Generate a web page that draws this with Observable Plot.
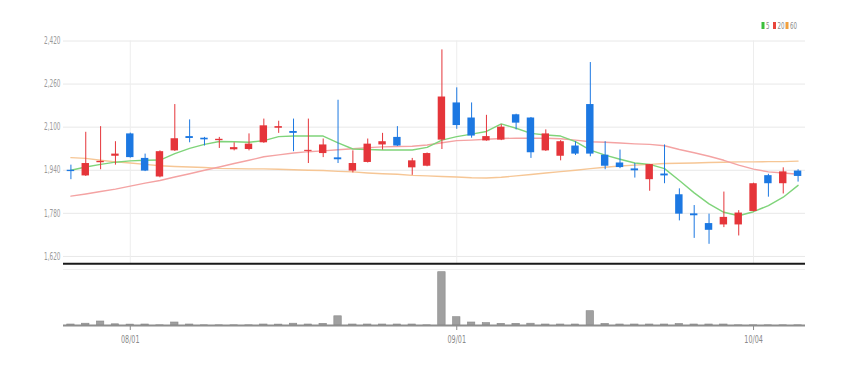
<!DOCTYPE html>
<html>
<head>
<meta charset="utf-8">
<script src="https://cdn.jsdelivr.net/npm/d3@7"></script>
<script src="https://cdn.jsdelivr.net/npm/@observablehq/plot@0.6"></script>
<style>
  body { margin: 0; background: #fff; }
  #wrap { position: relative; width: 848px; height: 366px; overflow: hidden;
    font-family: "Liberation Sans Narrow", "DejaVu Sans Condensed", "Liberation Sans", sans-serif; }
  #price, #vol, #legend { position: absolute; left: 0; }
  #price { top: 0; }
  #vol { top: 264px; }
  #legend { top: 0; }
  svg { background: transparent; }
</style>
</head>
<body>
<div id="wrap">
  <div id="price"></div>
  <div id="vol"></div>
  <div id="legend"></div>
</div>
<script>
// ---- data ----
const dates = [
  "2022-07-26","2022-07-27","2022-07-28","2022-07-29",
  "2022-08-01","2022-08-02","2022-08-03","2022-08-04","2022-08-05",
  "2022-08-08","2022-08-09","2022-08-10","2022-08-11","2022-08-12",
  "2022-08-16","2022-08-17","2022-08-18","2022-08-19",
  "2022-08-22","2022-08-23","2022-08-24","2022-08-25","2022-08-26",
  "2022-08-29","2022-08-30","2022-08-31",
  "2022-09-01","2022-09-02","2022-09-05","2022-09-06","2022-09-07","2022-09-08",
  "2022-09-13","2022-09-14","2022-09-15","2022-09-16",
  "2022-09-19","2022-09-20","2022-09-21","2022-09-22","2022-09-23",
  "2022-09-26","2022-09-27","2022-09-28","2022-09-29","2022-09-30",
  "2022-10-04","2022-10-05","2022-10-06","2022-10-07"
];
const open  = [1940,1919,1968,1992,2075,1984,1915,2012,2065,2059,2050,2016,2017,2042,2096,2084,2010,2002,1986,1937,1969,2034,2062,1949,1955,2052,2190,2134,2049,2052,2146,2134,2012,1992,2030,2184,1996,1967,1945,1905,1926,1849,1778,1742,1737,1737,1787,1920,1890,1937];
const high  = [1959,2081,2102,2046,2078,2000,2012,2184,2127,2062,2062,2042,2075,2130,2122,2130,2130,2056,2200,2012,2056,2077,2102,1984,2004,2387,2246,2190,2144,2109,2148,2136,2090,2050,2046,2340,2046,2015,1965,1961,2034,1871,1809,1777,1859,1790,1892,1925,1949,1942];
const low   = [1905,1917,1942,1959,1985,1935,1912,2010,2042,2030,2021,2012,2012,2040,2077,2009,1965,1987,1965,1930,1967,2015,2028,1921,1953,2017,2092,2059,2048,2050,2090,1984,2010,1975,1995,1990,1942,1946,1911,1862,1890,1752,1687,1665,1727,1696,1785,1840,1852,1896];
const close = [1935,1965,1973,2000,1987,1937,2009,2057,2058,2053,2055,2024,2037,2105,2102,2077,2014,2034,1979,1965,2037,2046,2030,1975,2002,2212,2106,2067,2065,2100,2115,2005,2075,2046,2000,2000,1955,1950,1938,1961,1919,1777,1771,1717,1765,1781,1890,1890,1934,1917];
const ma5   = [1940,1952,1962,1970,1975,1977,1978,2002,2021,2036,2047,2046,2044,2050,2065,2067,2067,2067,2042,2019,2017,2015,2015,2015,2025,2052,2065,2074,2084,2112,2096,2077,2071,2067,2046,2015,1996,1981,1967,1962,1946,1902,1856,1815,1784,1771,1786,1809,1840,1884];
const ma20  = [1844,1852,1861,1870,1881,1892,1902,1915,1927,1940,1952,1965,1977,1990,1997,2004,2009,2012,2016,2020,2024,2027,2028,2029,2034,2042,2050,2052,2055,2058,2059,2059,2059,2057,2052,2046,2044,2041,2038,2036,2031,2017,2005,1992,1977,1959,1944,1934,1930,1925];
const ma60  = [1987,1984,1977,1971,1967,1962,1957,1954,1952,1950,1947,1946,1945,1945,1944,1942,1940,1939,1936,1934,1930,1927,1925,1921,1919,1917,1915,1912,1911,1914,1919,1924,1930,1935,1940,1946,1951,1956,1959,1962,1965,1966,1967,1969,1970,1971,1971,1972,1972,1974];
const volume = [10000,18000,40000,12000,9000,10000,1500,30000,10000,1500,1500,1500,1500,10000,9000,18000,10000,17000,92000,10000,10000,10000,10000,10000,1500,533000,83000,30000,24000,17000,17000,18000,10000,10000,10000,143000,16000,10000,10000,10000,10000,15000,10000,10000,10000,1500,1500,1500,1500,1500];
const tickDates  = ["2022-08-01","2022-09-01","2022-10-04"];
const tickLabels = ["08/01","09/01","10/04"];
const yTicks = [1620,1780,1940,2100,2260,2420];
const maNames = ["5","20","60"];
const maColors = ["#7fd47a","#f4a3a3","#f6c695"];
const legendColors = ["#3cbf3c","#e8443a","#f0a040"];

// ---- chart ----
const RED = "#e5353a", BLUE = "#1c78e2";
const FONT = '"Liberation Sans Narrow", "DejaVu Sans Condensed", "Liberation Sans", sans-serif';
const n = dates.length;
const xDomain = [-0.5, n - 0.5];
const W = 848, ML = 63, MR = 43;
const rows = d3.range(n).map(i => ({i, o: open[i], h: high[i], l: low[i], c: close[i], v: volume[i], up: close[i] >= open[i]}));
const up = rows.filter(d => d.up), down = rows.filter(d => !d.up);
const maSeries = [ma5, ma20, ma60];
const tickIdx = tickDates.map(d => dates.indexOf(d));
const yBottom = 1593, yTop = 2420;

// condense tick text (the reference uses a narrow face)
function condense(svg, re, len) {
  svg.querySelectorAll("text").forEach(t => {
    if (re.test(t.textContent.trim())) {
      t.setAttribute("textLength", len);
      t.setAttribute("lengthAdjust", "spacingAndGlyphs");
    }
  });
}

const price = Plot.plot({
  width: W, height: 266,
  marginLeft: ML, marginRight: MR, marginTop: 40.5, marginBottom: 2.8,
  style: {fontSize: "10px", fontFamily: FONT, color: "#9a9a9a", background: "transparent"},
  x: {domain: xDomain, axis: null},
  y: {domain: [yBottom, yTop], ticks: yTicks, tickFormat: d3.format(","), tickSize: 0, tickPadding: 3, label: null},
  marks: [
    Plot.ruleY(yTicks, {stroke: "#e8e8e8", strokeWidth: 1}),
    Plot.ruleX(tickIdx, {x: d => d, y1: yBottom, y2: yTop, stroke: "#ededed"}),
    ...[2, 1, 0].map(k => Plot.line(d3.range(n), {x: i => i, y: i => maSeries[k][i], stroke: maColors[k], strokeWidth: 1.4})),
    Plot.ruleX(up, {x: "i", y1: "l", y2: "h", stroke: RED, strokeWidth: 1}),
    Plot.ruleX(down, {x: "i", y1: "l", y2: "h", stroke: BLUE, strokeWidth: 1}),
    Plot.rect(up, {x1: d => d.i - 0.25, x2: d => d.i + 0.25, y1: "o", y2: "c", fill: RED}),
    Plot.rect(down, {x1: d => d.i - 0.25, x2: d => d.i + 0.25, y1: "o", y2: "c", fill: BLUE}),
    Plot.ruleY([yBottom], {stroke: "#1a1a1a", strokeWidth: 2})
  ]
});
condense(price, /^\d,\d{3}$/, 16.5);
document.getElementById("price").appendChild(price);

const vMax = d3.max(volume);
const vTop = vMax * 56 / 53.3;
const vol = Plot.plot({
  width: W, height: 102,
  marginLeft: ML, marginRight: MR, marginTop: 5, marginBottom: 41,
  style: {fontSize: "11px", fontFamily: FONT, color: "#8a8a8a", background: "transparent"},
  x: {domain: xDomain, ticks: tickIdx, tickFormat: i => tickLabels[tickIdx.indexOf(i)], tickSize: 5, tickPadding: 5, label: null},
  y: {domain: [0, vTop], axis: null},
  marks: [
    Plot.ruleY([vTop], {stroke: "#f0f0f0"}),
    Plot.rect(rows, {x1: d => d.i - 0.25, x2: d => d.i + 0.25, y1: 0, y2: "v", fill: "#a0a0a0", stroke: "#888", strokeWidth: 0.6}),
    Plot.ruleY([0], {stroke: "#8e8e8e", strokeWidth: 2})
  ]
});
condense(vol, /^\d\d\/\d\d$/, 18.5);
document.getElementById("vol").appendChild(vol);

// legend (above the chart, top right)
const lsvg = d3.create("svg").attr("width", W).attr("height", 40)
  .style("font-family", FONT).style("font-size", "9.5px");
const lx = [761.5, 773, 785.5];
const lw = [3.5, 7, 7];
maNames.forEach((name, k) => {
  lsvg.append("rect").attr("x", lx[k]).attr("y", 22).attr("width", 3).attr("height", 7).attr("fill", legendColors[k]);
  lsvg.append("text").attr("x", lx[k] + 4.5).attr("y", 29).attr("fill", "#8a8a8a")
    .attr("textLength", lw[k]).attr("lengthAdjust", "spacingAndGlyphs").text(name);
});
document.getElementById("legend").appendChild(lsvg.node());
</script>
</body>
</html>
